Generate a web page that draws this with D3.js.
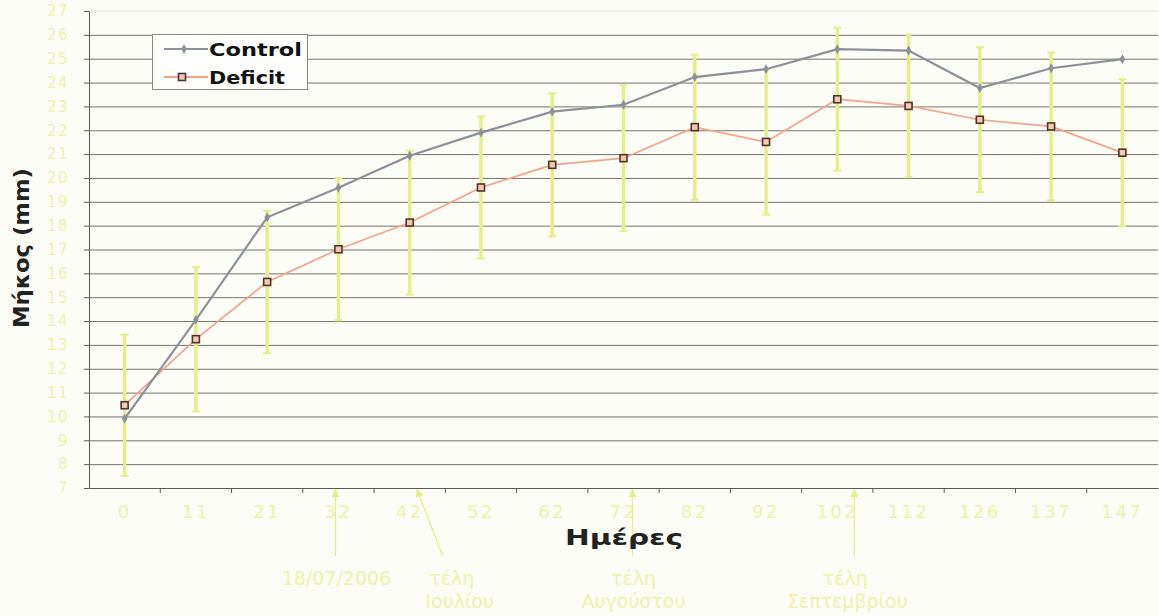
<!DOCTYPE html>
<html>
<head>
<meta charset="utf-8">
<script src="https://cdn.jsdelivr.net/npm/d3@7"></script>
<style>
  html, body { margin: 0; padding: 0; background: #fdfdf8; }
  svg { display: block; }
</style>
</head>
<body>
<div id="wrapper"></div>
<script>
// Data
const days = ["0", "11", "21", "32", "42", "52", "62", "72", "82", "92", "102", "112", "126", "137", "147"]
const controlValues = [9.91, 14.05, 18.35, 19.59, 20.93, 21.9, 22.78, 23.07, 24.23, 24.56, 25.4, 25.34, 23.77, 24.6, 24.98]
const deficitValues = [10.47, 13.24, 15.64, 17.01, 18.13, 19.6, 20.55, 20.83, 22.13, 21.51, 23.3, 23.02, 22.44, 22.16, 21.06]
const deficitErrors = [2.96, 3.03, 2.99, 2.98, 3.02, 2.98, 3.0, 3.06, 3.04, 3.05, 3.0, 2.99, 3.04, 3.1, 3.08]
const yTickValues = [7, 8, 9, 10, 11, 12, 13, 14, 15, 16, 17, 18, 19, 20, 21, 22, 23, 24, 25, 26, 27]
const seriesNames = ["Control", "Deficit"]
const annotationDays = ["32", "42", "72", "102"]
const annotationLabels = [["18/07/2006"], ["τέλη", "Ιουλίου"], ["τέλη", "Αυγούστου"], ["τέλη", "Σεπτεμβρίου"]]

function drawChart() {
  const dimensions = {
    width: 1159,
    height: 616,
    margin: { top: 11, right: 1, bottom: 128, left: 89 }
  }
  dimensions.boundedWidth = dimensions.width - dimensions.margin.left - dimensions.margin.right
  dimensions.boundedHeight = dimensions.height - dimensions.margin.top - dimensions.margin.bottom

  const paleYellow = "#e6ee8a"
  const labelYellow = "#eef3ab"
  const gridColor = "#74746a"
  const controlColor = "#8b9199"
  const deficitColor = "#f3a38b"

  const wrapper = d3.select("#wrapper")
    .append("svg")
    .attr("width", dimensions.width)
    .attr("height", dimensions.height)
    .style("background", "#fdfdf8")

  wrapper.append("defs").append("marker")
    .attr("id", "arrow")
    .attr("viewBox", "0 0 10 10")
    .attr("refX", 10).attr("refY", 5)
    .attr("markerWidth", 9).attr("markerHeight", 8)
    .attr("markerUnits", "userSpaceOnUse")
    .attr("orient", "auto-start-reverse")
    .append("path")
    .attr("d", "M0,0 L10,5 L0,10 z")
    .attr("fill", paleYellow)

  const bounds = wrapper.append("g")
    .attr("transform", `translate(${dimensions.margin.left},${dimensions.margin.top})`)

  // Scales
  const xScale = d3.scaleBand()
    .domain(days)
    .range([0, dimensions.boundedWidth])
    .padding(0)
  const bw = xScale.bandwidth()
  const xCenter = d => xScale(d) + bw / 2

  const yScale = d3.scaleLinear()
    .domain([7, 27])
    .range([dimensions.boundedHeight, 0])

  // Gridlines
  const grid = bounds.append("g")
    .call(d3.axisLeft(yScale)
      .tickValues(yTickValues.slice(1, -1))
      .tickSize(-dimensions.boundedWidth)
      .tickFormat(""))
  grid.select(".domain").remove()
  grid.selectAll("line").attr("stroke", gridColor).attr("stroke-width", 1)

  bounds.append("line")
    .attr("x1", 0).attr("x2", dimensions.boundedWidth)
    .attr("y1", yScale(27)).attr("y2", yScale(27))
    .attr("stroke", "#e4e4da")

  // Y axis
  const yAxis = bounds.append("g")
    .call(d3.axisLeft(yScale)
      .tickValues(yTickValues)
      .tickSize(5)
      .tickPadding(15)
      .tickSizeOuter(0))
  yAxis.select(".domain").attr("stroke", "#5b5b50")
  yAxis.selectAll("line").attr("stroke", "#5b5b50")
  yAxis.selectAll("text")
    .attr("fill", labelYellow)
    .style("font-family", "DejaVu Sans")
    .style("font-size", "15px")
    .style("letter-spacing", "1.5px")

  // X axis: labels at band centres, ticks at band edges
  const xAxis = bounds.append("g")
    .attr("transform", `translate(0,${dimensions.boundedHeight})`)
    .call(d3.axisBottom(xScale).tickSize(0).tickPadding(17).tickSizeOuter(0))
  xAxis.select(".domain").attr("stroke", "#5b5b50")
  xAxis.selectAll("text")
    .attr("fill", labelYellow)
    .style("font-family", "DejaVu Sans")
    .style("font-size", "18px")
    .style("letter-spacing", "2.5px")

  xAxis.selectAll(".edge-tick")
    .data(days.slice(1))
    .join("line")
    .attr("class", "edge-tick")
    .attr("x1", d => xScale(d)).attr("x2", d => xScale(d))
    .attr("y1", 0).attr("y2", 5)
    .attr("stroke", "#5b5b50")

  // Error bars (Deficit)
  const errGroups = bounds.append("g")
    .selectAll("g")
    .data(days)
    .join("g")
    .attr("stroke", paleYellow)
    .attr("stroke-width", 3.5)

  errGroups.append("line")
    .attr("x1", d => xCenter(d)).attr("x2", d => xCenter(d))
    .attr("y1", (d, i) => yScale(deficitValues[i] + deficitErrors[i]))
    .attr("y2", (d, i) => yScale(deficitValues[i] - deficitErrors[i]))
  errGroups.selectAll(".cap")
    .data((d, i) => [[d, deficitValues[i] + deficitErrors[i]], [d, deficitValues[i] - deficitErrors[i]]])
    .join("line")
    .attr("class", "cap")
    .attr("stroke-width", 2)
    .attr("x1", d => xCenter(d[0]) - 4).attr("x2", d => xCenter(d[0]) + 4)
    .attr("y1", d => yScale(d[1])).attr("y2", d => yScale(d[1]))

  // Lines
  const lineGen = d3.line()
    .x((d, i) => xCenter(days[i]))
    .y(d => yScale(d))

  bounds.append("path")
    .datum(deficitValues)
    .attr("d", lineGen)
    .attr("fill", "none")
    .attr("stroke", deficitColor)
    .attr("stroke-width", 1.7)

  bounds.append("path")
    .datum(controlValues)
    .attr("d", lineGen)
    .attr("fill", "none")
    .attr("stroke", controlColor)
    .attr("stroke-width", 2.2)

  const diamond = d3.symbol().type(d3.symbolDiamond).size(28)

  bounds.append("g")
    .selectAll("path")
    .data(controlValues)
    .join("path")
    .attr("d", diamond)
    .attr("transform", (d, i) => `translate(${xCenter(days[i])},${yScale(d)})`)
    .attr("fill", controlColor)

  bounds.append("g")
    .selectAll("rect")
    .data(deficitValues)
    .join("rect")
    .attr("x", (d, i) => xCenter(days[i]) - 3.5)
    .attr("y", d => yScale(d) - 3.5)
    .attr("width", 7).attr("height", 7)
    .attr("fill", "#f7c8b4")
    .attr("stroke", "#4d3428")
    .attr("stroke-width", 1.6)

  // Annotations under the x axis
  const annotationLayout = [
    { tipDx: -3, endDx: -3, textDx: [-2] },
    { tipDx: 7, endDx: 33, textDx: [42, 50] },
    { tipDx: 9, endDx: 9, textDx: [10, 10] },
    { tipDx: 17, endDx: 17, textDx: [8, 10] }
  ]
  const annGroups = bounds.append("g")
    .selectAll("g")
    .data(annotationDays)
    .join("g")

  annGroups.append("line")
    .attr("x1", (d, i) => xCenter(d) + annotationLayout[i].tipDx)
    .attr("y1", dimensions.boundedHeight + 1)
    .attr("x2", (d, i) => xCenter(d) + annotationLayout[i].endDx)
    .attr("y2", dimensions.boundedHeight + 68)
    .attr("stroke", paleYellow)
    .attr("stroke-width", 1.3)
    .attr("marker-start", "url(#arrow)")

  annGroups.selectAll("text")
    .data((d, i) => annotationLabels[i].map((t, j) => ({ t, x: xCenter(d) + annotationLayout[i].textDx[j], j })))
    .join("text")
    .attr("x", d => d.x)
    .attr("y", d => dimensions.boundedHeight + 97 + d.j * 23)
    .attr("text-anchor", "middle")
    .attr("fill", labelYellow)
    .style("font-family", "DejaVu Sans")
    .style("font-size", "19px")
    .text(d => d.t)

  // Axis titles
  wrapper.append("text")
    .attr("x", 624)
    .attr("y", 545)
    .attr("text-anchor", "middle")
    .attr("textLength", 118)
    .attr("lengthAdjust", "spacingAndGlyphs")
    .attr("fill", "#222")
    .style("font-family", "DejaVu Sans")
    .style("font-weight", "bold")
    .style("font-size", "22px")
    .text("Ημέρες")

  wrapper.append("text")
    .attr("transform", "translate(29,248) rotate(-90)")
    .attr("text-anchor", "middle")
    .attr("textLength", 160)
    .attr("lengthAdjust", "spacingAndGlyphs")
    .attr("fill", "#222")
    .style("font-family", "DejaVu Sans")
    .style("font-weight", "bold")
    .style("font-size", "22px")
    .text("Μήκος (mm)")

  // Legend
  const legend = wrapper.append("g")
  legend.append("rect")
    .attr("x", 152.5).attr("y", 34.5)
    .attr("width", 155).attr("height", 55)
    .attr("fill", "#fefefc")
    .attr("stroke", "#8a8a7e")

  const legendRows = legend.selectAll(".row")
    .data(seriesNames)
    .join("g")
    .attr("class", "row")
    .attr("transform", (d, i) => `translate(0,${49 + i * 28})`)

  legendRows.append("line")
    .attr("x1", 164).attr("x2", 208)
    .attr("stroke", (d, i) => i === 0 ? controlColor : deficitColor)
    .attr("stroke-width", 2)

  legendRows.filter((d, i) => i === 0).append("path")
    .attr("d", diamond)
    .attr("transform", "translate(184,0)")
    .attr("fill", controlColor)

  legendRows.filter((d, i) => i === 1).append("rect")
    .attr("x", 178.5).attr("y", -3.5)
    .attr("width", 7).attr("height", 7)
    .attr("fill", "#f7c8b4")
    .attr("stroke", "#4d3428")
    .attr("stroke-width", 1.6)

  legendRows.append("text")
    .attr("x", 209)
    .attr("y", 6.5)
    .attr("textLength", (d, i) => i === 0 ? 93 : 76)
    .attr("lengthAdjust", "spacingAndGlyphs")
    .attr("fill", "#111")
    .style("font-family", "DejaVu Sans")
    .style("font-weight", "bold")
    .style("font-size", "17px")
    .text(d => d)
}

drawChart()
</script>
</body>
</html>
